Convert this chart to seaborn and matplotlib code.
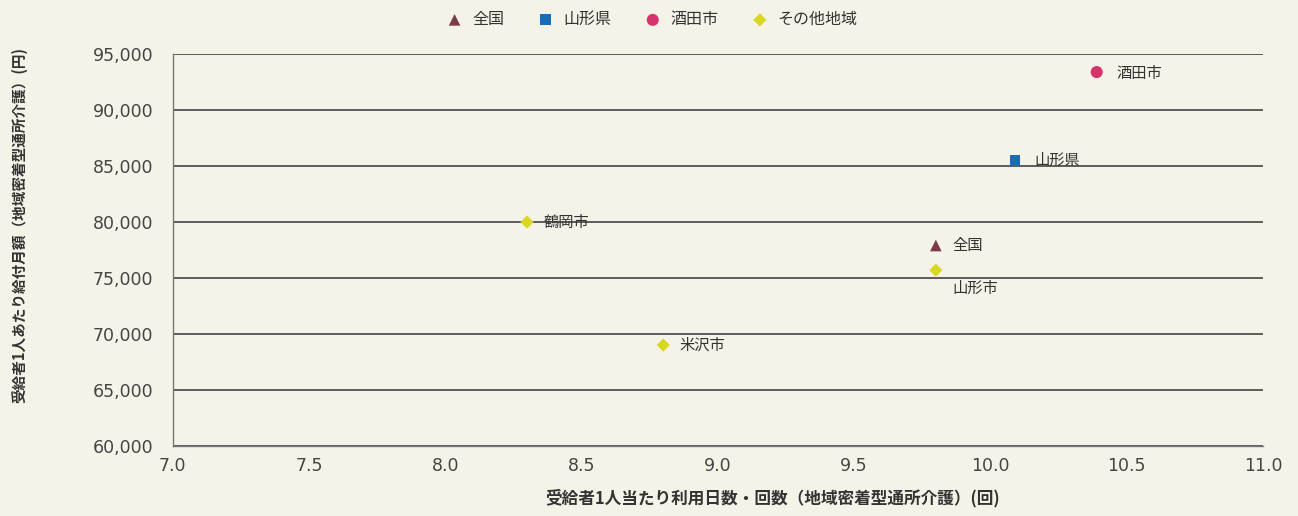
import matplotlib
matplotlib.use("Agg")
import matplotlib.pyplot as plt
import seaborn as sns
import pandas as pd
from matplotlib.ticker import FuncFormatter, MultipleLocator

# Data
names = ["全国", "山形県", "酒田市", "鶴岡市", "山形市", "米沢市"]
groups = ["全国", "山形県", "酒田市", "その他地域", "その他地域", "その他地域"]
x_vals = [9.8, 10.09, 10.39, 8.3, 9.8, 8.8]
y_vals = [77900, 85500, 93400, 80000, 75700, 69000]
group_order = ["全国", "山形県", "酒田市", "その他地域"]
x_label = "受給者1人当たり利用日数・回数（地域密着型通所介護）(回)"
y_label = "受給者1人あたり給付月額（地域密着型通所介護）(円)"

df = pd.DataFrame({"name": names, "group": groups, "x": x_vals, "y": y_vals})

sns.set_style("white")
plt.rcParams["font.family"] = ["DejaVu Sans", "Noto Sans CJK JP"]
cjk = ["Noto Sans CJK JP", "DejaVu Sans"]

bg = "#f5f3e8"
fig = plt.figure(figsize=(12.98, 5.16), dpi=100, facecolor=bg)
ax = fig.add_axes([0.133, 0.136, 0.840, 0.759])
ax.set_facecolor(bg)

palette = {"全国": "#7d3b47", "山形県": "#1b6db3", "酒田市": "#d6336c", "その他地域": "#d8d81e"}
markers = {"全国": "^", "山形県": "s", "酒田市": "o", "その他地域": "D"}
sizes = {"全国": 70, "山形県": 60, "酒田市": 75, "その他地域": 45}

for g in group_order:
    sub = df[df["group"] == g]
    sns.scatterplot(data=sub, x="x", y="y", color=palette[g], marker=markers[g],
                    s=sizes[g], edgecolor="none", ax=ax, label=g, zorder=3)

offsets = {"全国": (12, 0), "山形県": (14, 0), "酒田市": (14, -1), "鶴岡市": (12, 0),
           "山形市": (12, -13), "米沢市": (12, 0)}
for n, xv, yv in zip(names, x_vals, y_vals):
    dx, dy = offsets[n]
    ax.annotate(n, (xv, yv), xytext=(dx, dy), textcoords="offset points",
                va="center", ha="left", fontsize=11, color="#333333", family=cjk)

ax.set_xlim(7.0, 11.0)
ax.set_ylim(60000, 95000)
ax.xaxis.set_major_locator(MultipleLocator(0.5))
ax.yaxis.set_major_locator(MultipleLocator(5000))
ax.xaxis.set_major_formatter(FuncFormatter(lambda v, p: f"{v:.1f}"))
ax.yaxis.set_major_formatter(FuncFormatter(lambda v, p: f"{int(v):,}"))
ax.grid(axis="y", color="#333333", linewidth=1.1)
ax.grid(axis="x", visible=False)
for s in ["top", "right"]:
    ax.spines[s].set_visible(False)
for s in ["left", "bottom"]:
    ax.spines[s].set_color("#777777")
    ax.spines[s].set_linewidth(1.0)
ax.tick_params(axis="both", direction="inout", length=8, color="#777777",
               labelsize=12.5, labelcolor="#444444")
ax.tick_params(axis="y", pad=10)
ax.tick_params(axis="x", pad=4)

ax.set_xlabel(x_label, fontsize=12, fontweight="bold", color="#333333", family=cjk)
ax.set_ylabel(y_label, fontsize=10.5, fontweight="bold", color="#333333", family=cjk)
ax.xaxis.set_label_coords(0.55, -0.11)
ax.yaxis.set_label_coords(-0.133, 0.564)

leg = ax.legend(loc="lower center", bbox_to_anchor=(0.436, 1.03), ncol=4, frameon=False,
                handletextpad=0.1, columnspacing=1.6, markerscale=1.0,
                prop={"family": cjk, "size": 11.5})
for t in leg.get_texts():
    t.set_color("#333333")

fig.savefig("out.png", dpi=100, facecolor=bg)
